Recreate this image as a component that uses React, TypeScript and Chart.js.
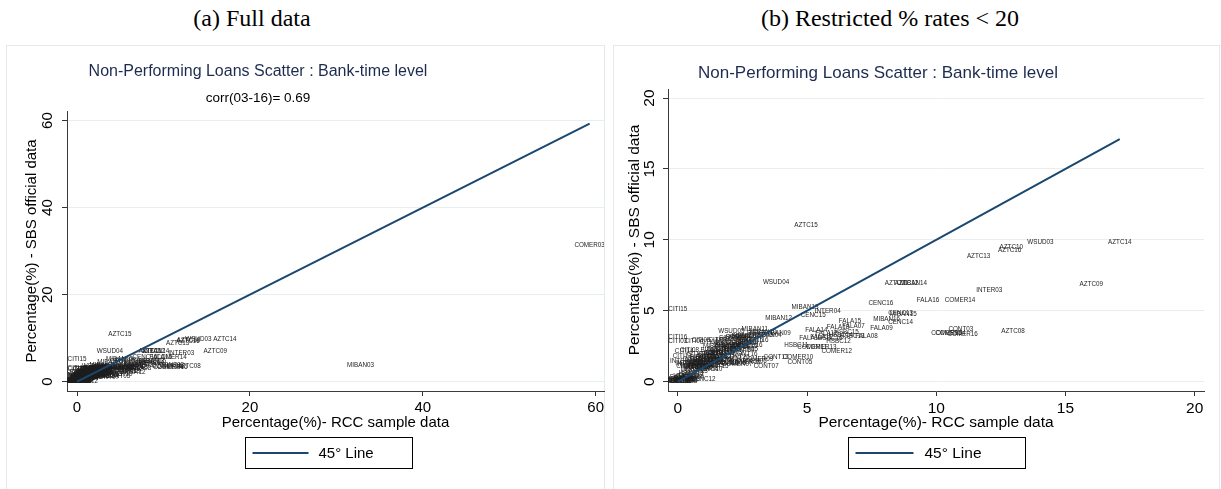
import React, { useEffect, useRef } from "react";
import { Chart, registerables } from "chart.js";

Chart.register(...registerables);

// ---------------- DATA ----------------
// bank-year labels, RCC sample NPL (%) and SBS official NPL (%)
const bankLabels = [
  "AZTC15","AZTC14","WSUD03","AZTC10","AZTC16","AZTC13","WSUD04","AZTC11","AZTC12","MIBAN14",
  "INTER03","AZTC09","FALA16","COMER14","CENC16","MIBAN13","INTER04","CENC15","MIBAN12","MIBAN15",
  "CENC13","MIBAN16","CENC14","FALA15","FALA07","FALA13","FALA09","FALA14","FALA12","HSBC15",
  "HSBC14","HSBC13","FALA08","FALA10","FALA11","HSBC12","HSBC11","COMER11","COMER13","COMER12",
  "CONT03","COMER16","COMER15","COMER04","AZTC08","WSUD05","MIBAN11","MIBAN10","MIBAN09","COMER10",
  "CONT13","CONT05","CONT07","COMER06","COMER05","COMER07","COMER08","COMER09","CENC12","CITI15",
  "CITI16","CITI03","CITI14","CITI13","INTER16","CITI04","CITI05","CITI06","CITI07","CITI08",
  "CITI09","CITI10","CITI11","CITI12","SCOTI03","SCOTI04","SCOTI05","SCOTI06","SCOTI07","SCOTI08",
  "SCOTI09","SCOTI10","SCOTI11","SCOTI12","SCOTI13","SCOTI14","SCOTI15","SCOTI16","CRED03","CRED04",
  "CRED05","CRED06","CRED07","CRED08","CRED09","CRED10","CRED11","CRED12","CRED13","CRED14",
  "CRED15","CRED16","CONT04","CONT06","CONT08","CONT09","CONT10","CONT11","CONT12","CONT14",
  "CONT15","CONT16","INTER05","INTER06","INTER07","INTER08","INTER09","INTER10","INTER11","INTER12",
  "INTER13","INTER14","INTER15","BIF03","BIF04","BIF05","BIF06","BIF07","BIF08","BIF09",
  "BIF10","BIF11","BIF12","BIF13","BIF14","BIF15","BIF16","MIBAN04","MIBAN05","MIBAN06",
  "MIBAN07","MIBAN08","HSBC07","HSBC08","HSBC09","HSBC10","HSBC16","SANT07","SANT08","SANT09",
  "SANT10","SANT11","SANT12","SANT13","SANT14","SANT15","SANT16","ICBC14","ICBC15","ICBC16",
  "DEUT12","DEUT13","DEUT14","DEUT15","DEUT16","RIPL08","RIPL09","FINA03","FINA04","MIBAN03",
  "COMER03",
];

const rccSample = [
  4.96, 17.1, 14.03, 12.9, 12.84, 11.64, 3.8, 8.45, 8.85, 9.12,
  12.05, 16.0, 9.68, 10.92, 7.86, 4.92, 5.8, 5.24, 3.9, 8.72,
  8.62, 8.08, 8.62, 6.66, 6.8, 6.2, 7.88, 5.36, 5.75, 6.53,
  6.3, 6.75, 7.3, 5.13, 5.55, 6.22, 4.58, 5.2, 5.55, 6.15,
  10.95, 11.02, 10.4, 10.55, 12.97, 2.07, 2.98, 3.3, 3.85, 4.65,
  3.8, 4.72, 3.42, 2.85, 2.05, 2.3, 2.6, 3.1, 0.98, 0.0,
  0.0, 0.0, 0.25, 0.17, 0.2, 0.62, 0.9, 1.2, 1.55, 0.45,
  0.7, 1.35, 0.55, 0.3, 2.1, 2.35, 1.95, 1.65, 1.2, 0.9,
  1.1, 2.3, 1.5, 1.75, 2.2, 2.6, 2.8, 3.0, 3.2, 2.7,
  1.9, 1.3, 0.9, 0.7, 1.0, 1.3, 1.4, 1.6, 2.0, 2.3,
  2.6, 2.8, 2.5, 1.7, 0.9, 1.0, 1.2, 1.3, 1.6, 2.0,
  2.3, 2.6, 2.6, 1.7, 1.1, 0.8, 1.05, 0.85, 0.6, 0.75,
  0.6, 0.5, 0.4, 3.0, 2.4, 1.8, 1.2, 0.8, 0.65, 1.1,
  1.4, 1.6, 1.8, 2.1, 2.4, 2.55, 2.7, 3.5, 2.5, 2.0,
  1.5, 1.9, 0.3, 0.5, 1.3, 1.8, 5.9, 0.1, 0.2, 0.15,
  0.3, 0.4, 0.55, 0.7, 1.1, 1.5, 1.9, 0.0, 0.05, 0.1,
  0.02, 0.08, 0.2, 0.3, 0.12, 0.35, 0.25, 0.45, 0.6, 32.8,
  59.3,
];

const sbsOfficial = [
  11.0, 9.86, 9.81, 9.5, 9.25, 8.87, 7.04, 6.95, 6.97, 6.95,
  6.48, 6.89, 5.72, 5.72, 5.54, 5.24, 4.93, 4.7, 4.45, 4.78,
  4.8, 4.43, 4.22, 4.23, 3.9, 3.85, 3.73, 3.6, 3.38, 3.47,
  3.25, 3.22, 3.19, 3.06, 3.12, 2.83, 2.55, 2.42, 2.42, 2.17,
  3.68, 3.33, 3.44, 3.4, 3.53, 3.58, 3.69, 3.45, 3.38, 1.72,
  1.72, 1.36, 1.06, 1.47, 1.3, 1.2, 1.35, 1.55, 0.19, 5.13,
  3.13, 2.82, 2.12, 1.82, 1.42, 2.85, 2.95, 2.75, 2.9, 2.2,
  1.9, 0.85, 1.55, 1.1, 3.05, 3.12, 2.6, 2.3, 1.7, 1.3,
  1.5, 3.0, 2.0, 2.15, 2.5, 2.7, 2.9, 2.95, 3.3, 3.2,
  2.4, 1.9, 1.4, 1.1, 1.6, 1.6, 1.7, 1.8, 2.1, 2.4,
  2.5, 2.6, 2.2, 1.5, 1.2, 1.25, 1.45, 1.5, 1.7, 1.6,
  1.75, 1.9, 2.3, 2.0, 1.35, 0.95, 1.1, 1.0, 0.85, 1.0,
  1.05, 1.2, 1.3, 3.4, 3.2, 2.7, 2.2, 1.7, 1.35, 1.8,
  2.0, 2.1, 2.2, 2.3, 2.6, 2.75, 2.8, 3.25, 3.15, 2.9,
  2.5, 2.55, 0.4, 0.6, 1.15, 1.4, 3.05, 0.1, 0.15, 0.3,
  0.25, 0.35, 0.5, 0.7, 0.9, 1.1, 1.3, 0.0, 0.02, 0.05,
  0.0, 0.1, 0.05, 0.1, 0.2, 0.05, 0.15, 0.2, 0.3, 3.7,
  31.3,
];

const ticksFullX = [0, 20, 40, 60];
const ticksFullY = [0, 20, 40, 60];
const ticksRestX = [0, 5, 10, 15, 20];
const ticksRestY = [0, 5, 10, 15, 20];
const restrictLimit = 20;

// ---------------- STYLE ----------------
const SANS = "'Liberation Sans', Arial, Helvetica, sans-serif";
const SERIF = "'Liberation Serif', 'Times New Roman', serif";
const NAVY = "#1a476f";
const TITLE_COLOR = "#1c2b4f";
const GRID = "#e6eef0";
const FRAME = "#e2eaee";

type Pt = { x: number; y: number; label: string };

const allPoints: Pt[] = bankLabels.map((l, i) => ({ label: l, x: rccSample[i], y: sbsOfficial[i] }));
const restPoints: Pt[] = allPoints.filter((p) => p.x < restrictLimit && p.y < restrictLimit);

type PanelCfg = {
  left: number;
  top: number;
  w: number;
  h: number;
  pts: Pt[];
  xMin: number; xMax: number; yMin: number; yMax: number;
  xTicks: number[]; yTicks: number[];
  title: string; subtitle?: string;
  titleX: number; titleY: number; subY: number;
  titleSize: number; subSize: number;
  fontSize: number;
  padding: { top: number; right: number; bottom: number; left: number };
  yWidth: number; xHeight: number;
  yTitlePad: number; yTickPad: number; xTickPad: number; xTitlePad: number;
  legW: number; legH: number; legTop: number; legDx: number; legLine: number; legTextGap: number;
};

function makeChart(canvas: HTMLCanvasElement, c: PanelCfg) {
  const xs = c.pts.map((p) => p.x);
  const lo = Math.min(...xs);
  const hi = Math.max(...xs);

  const labelPlugin = {
    id: "mlabels",
    beforeDatasetsDraw(chart: any) {
      const ctx = chart.ctx;
      const meta = chart.getDatasetMeta(0);
      const data = chart.data.datasets[0].data as Pt[];
      const a = chart.chartArea;
      ctx.save();
      ctx.beginPath();
      ctx.rect(a.left, a.top, a.right - a.left, a.bottom - a.top);
      ctx.clip();
      ctx.font = `6.3px ${SANS}`;
      ctx.fillStyle = "#1e1e1e";
      ctx.textAlign = "center";
      ctx.textBaseline = "middle";
      meta.data.forEach((el: any, i: number) => {
        ctx.fillText(data[i].label, el.x, el.y);
      });
      ctx.restore();
    },
  };

  const textPlugin = {
    id: "paneltext",
    afterDraw(chart: any) {
      const ctx = chart.ctx;
      const a = chart.chartArea;
      ctx.save();
      ctx.textAlign = "center";
      ctx.textBaseline = "middle";
      ctx.fillStyle = TITLE_COLOR;
      ctx.font = `${c.titleSize}px ${SANS}`;
      ctx.fillText(c.title, c.titleX, c.titleY);
      if (c.subtitle) {
        ctx.fillStyle = "#000";
        ctx.font = `${c.subSize}px ${SANS}`;
        ctx.fillText(c.subtitle, c.titleX, c.subY);
      }
      // legend
      const cx = (a.left + a.right) / 2 + c.legDx;
      const bl = Math.round(cx - c.legW / 2) + 0.5;
      const bt = c.legTop + 0.5;
      ctx.strokeStyle = "#000";
      ctx.lineWidth = 1;
      ctx.strokeRect(bl, bt, c.legW, c.legH);
      const my = bt + c.legH / 2;
      const ds = chart.data.datasets[1];
      ctx.strokeStyle = ds.borderColor;
      ctx.lineWidth = ds.borderWidth;
      ctx.beginPath();
      ctx.moveTo(bl + 7, my);
      ctx.lineTo(bl + 7 + c.legLine, my);
      ctx.stroke();
      ctx.fillStyle = "#000";
      ctx.font = `${c.fontSize}px ${SANS}`;
      ctx.textAlign = "left";
      ctx.fillText(ds.label, bl + 7 + c.legLine + c.legTextGap, my + 1);
      ctx.restore();
    },
  };

  return new Chart(canvas, {
    type: "scatter",
    data: {
      datasets: [
        {
          label: "points",
          data: c.pts as any,
          pointRadius: 0,
          pointHoverRadius: 0,
          showLine: false,
        },
        {
          label: "45° Line",
          data: [
            { x: lo, y: lo },
            { x: hi, y: hi },
          ],
          showLine: true,
          borderColor: NAVY,
          borderWidth: 2,
          pointRadius: 0,
          pointHoverRadius: 0,
          fill: false,
        } as any,
      ],
    },
    options: {
      animation: false,
      responsive: false,
      devicePixelRatio: 1,
      events: [],
      layout: { padding: c.padding },
      plugins: {
        legend: { display: false },
        title: { display: false },
        tooltip: { enabled: false },
      },
      scales: {
        x: {
          type: "linear",
          min: c.xMin,
          max: c.xMax,
          afterBuildTicks: (s: any) => {
            s.ticks = c.xTicks.map((v) => ({ value: v }));
          },
          afterFit: (s: any) => {
            s.height = c.xHeight;
          },
          grid: {
            drawOnChartArea: false,
            drawTicks: true,
            tickLength: 5,
            tickColor: "#333",
            tickWidth: 1,
          },
          border: { display: true, color: "#3a3a3a", width: 1 },
          ticks: {
            color: "#000",
            font: { family: SANS, size: c.fontSize },
            padding: c.xTickPad,
            maxRotation: 0,
            autoSkip: false,
          },
          title: {
            display: true,
            text: "Percentage(%)- RCC sample data",
            color: "#000",
            font: { family: SANS, size: c.fontSize },
            padding: { top: 0, bottom: c.xTitlePad },
          },
        },
        y: {
          type: "linear",
          min: c.yMin,
          max: c.yMax,
          afterBuildTicks: (s: any) => {
            s.ticks = c.yTicks.map((v) => ({ value: v }));
          },
          afterFit: (s: any) => {
            s.width = c.yWidth;
          },
          grid: {
            color: GRID,
            lineWidth: 1,
            drawTicks: true,
            tickLength: 5,
            tickColor: "#333",
            tickWidth: 1,
          },
          border: { display: true, color: "#3a3a3a", width: 1 },
          ticks: {
            color: "#000",
            font: { family: SANS, size: c.fontSize },
            padding: c.yTickPad,
            minRotation: 90,
            maxRotation: 90,
            crossAlign: "center",
            autoSkip: false,
          },
          title: {
            display: true,
            text: "Percentage(%) - SBS official data",
            color: "#000",
            font: { family: SANS, size: c.fontSize },
            padding: { top: c.yTitlePad, bottom: 0 },
          },
        },
      },
    } as any,
    plugins: [labelPlugin, textPlugin],
  });
}

function Panel({ cfg }: { cfg: PanelCfg }) {
  const ref = useRef<HTMLCanvasElement>(null);
  useEffect(() => {
    const chart = makeChart(ref.current!, cfg);
    return () => chart.destroy();
  }, []);
  return (
    <canvas
      ref={ref}
      width={cfg.w}
      height={cfg.h}
      style={{ position: "absolute", left: cfg.left, top: cfg.top, width: cfg.w, height: cfg.h }}
    />
  );
}

const panelA: PanelCfg = {
  left: 6, top: 45, w: 604, h: 444,
  pts: allPoints,
  xMin: -1.16, xMax: 60.96, yMin: -2.14, yMax: 62.2,
  xTicks: ticksFullX, yTicks: ticksFullY,
  title: "Non-Performing Loans Scatter : Bank-time level",
  subtitle: "corr(03-16)= 0.69",
  titleX: 252, titleY: 27, subY: 53,
  titleSize: 16, subSize: 13.5,
  fontSize: 15,
  padding: { top: 66, right: 6, bottom: 54, left: 0 },
  yWidth: 61, xHeight: 44,
  yTitlePad: 17, yTickPad: 6, xTickPad: 3, xTitlePad: 3,
  legW: 167, legH: 31, legTop: 392, legDx: -7, legLine: 56, legTextGap: 10,
};

const panelB: PanelCfg = {
  left: 612, top: 45, w: 609, h: 444,
  pts: restPoints,
  xMin: -0.38, xMax: 20.36, yMin: -0.66, yMax: 20.64,
  xTicks: ticksRestX, yTicks: ticksRestY,
  title: "Non-Performing Loans Scatter : Bank-time level",
  titleX: 266, titleY: 28, subY: 0,
  titleSize: 17, subSize: 13.5,
  fontSize: 15.5,
  padding: { top: 44, right: 17, bottom: 54, left: 0 },
  yWidth: 56, xHeight: 44,
  yTitlePad: 13, yTickPad: 5, xTickPad: 3, xTitlePad: 3,
  legW: 177, legH: 31, legTop: 392, legDx: 0, legLine: 58, legTextGap: 11,
};

export default function App() {
  useEffect(() => {
    document.body.style.margin = "0";
  }, []);
  return (
    <div
      style={{
        position: "fixed",
        left: 0,
        top: 0,
        width: 1221,
        height: 489,
        overflow: "hidden",
        background: "#fff",
      }}
    >
      <div
        style={{
          position: "absolute",
          left: 0,
          top: 4,
          width: 504,
          textAlign: "center",
          fontFamily: SERIF,
          fontSize: 24,
          lineHeight: "28px",
          color: "#000",
        }}
      >
        (a) Full data
      </div>
      <div
        style={{
          position: "absolute",
          left: 640,
          top: 4,
          width: 500,
          textAlign: "center",
          fontFamily: SERIF,
          fontSize: 24,
          lineHeight: "28px",
          color: "#000",
        }}
      >
        (b) Restricted % rates &lt; 20
      </div>
      <div
        style={{
          position: "absolute",
          left: 6,
          top: 45,
          width: 597,
          height: 470,
          borderLeft: `1px solid ${FRAME}`,
          borderTop: `1px solid ${FRAME}`,
          borderRight: `1px solid ${FRAME}`,
        }}
      />
      <div
        style={{
          position: "absolute",
          left: 613,
          top: 45,
          width: 605,
          height: 470,
          borderLeft: `1px solid ${FRAME}`,
          borderTop: `1px solid ${FRAME}`,
          borderRight: `1px solid ${FRAME}`,
        }}
      />
      <Panel cfg={panelA} />
      <Panel cfg={panelB} />
    </div>
  );
}
